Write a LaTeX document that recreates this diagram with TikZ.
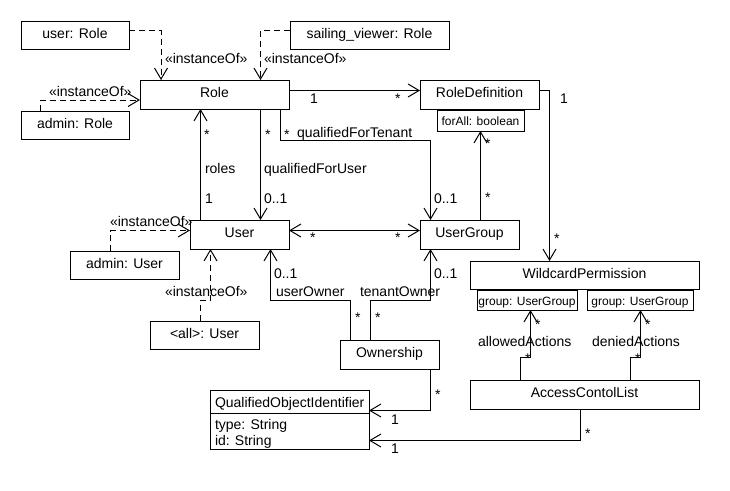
\documentclass[tikz,border=0pt]{standalone}
\usepackage{fontspec}
\setmainfont{Liberation Sans}
\usetikzlibrary{arrows.meta}
\begin{document}
\begin{tikzpicture}[x=1pt,y=-1pt,
  >={Straight Barb[length=11pt,width=13pt]},
  every node/.style={font=\fontsize{14pt}{16pt}\selectfont, inner sep=0pt, outer sep=0pt},
  box/.style={draw, line width=1pt, text height=9pt, text depth=3pt},
  sbox/.style={draw, line width=1pt, text height=10pt, text depth=0pt, font=\fontsize{12pt}{14pt}\selectfont},
  lab/.style={anchor=base west},
  conn/.style={draw, line width=1pt},
  dep/.style={draw, line width=1pt, dash pattern=on 6pt off 4pt}]
\fill[white] (0,0) rectangle (730,490);
\useasboundingbox (0,0) rectangle (730,490);

% boxes
\node[box, minimum width=108pt, minimum height=28pt] (userRole) at (75,35) {user: Role};
\node[box, minimum width=159pt, minimum height=28pt] (sailing) at (369.5,35) {sailing\_viewer: Role};
\node[box, minimum width=149pt, minimum height=29pt] (Role) at (214.5,94.5) {Role};
\node[box, minimum width=108pt, minimum height=28pt] (adminRole) at (75,125) {admin: Role};
\node[box, minimum width=119pt, minimum height=29pt] (RoleDef) at (479.5,94.5) {RoleDefinition};
\node[sbox, minimum width=87pt, minimum height=21pt] (forAll) at (480.5,120.5) {forAll: boolean};
\node[box, minimum width=99pt, minimum height=29pt] (User) at (239.5,234.5) {User};
\node[box, minimum width=99pt, minimum height=29pt] (UserGroup) at (469.5,234.5) {UserGroup};
\node[box, minimum width=109pt, minimum height=28pt] (adminUser) at (124.5,265) {admin: User};
\node[box, minimum width=109pt, minimum height=28pt] (allUser) at (204.5,335) {<all>: User};
\node[box, minimum width=99pt, minimum height=29pt] (Ownership) at (389.5,354.5) {Ownership};
\node[box, minimum width=229pt, minimum height=28pt] (Wildcard) at (584.5,275) {WildcardPermission};
\node[sbox, minimum width=100pt, minimum height=20pt] (g1) at (527,300) {group: UserGroup};
\node[sbox, minimum width=106pt, minimum height=20pt] (g2) at (640,300) {group: UserGroup};
\node[box, minimum width=229pt, minimum height=29pt] (ACL) at (584.5,394.5) {AccessContolList};
\node[draw, line width=1pt, minimum width=159pt, minimum height=59pt] (QOI) at (289.5,419.5) {};
\draw[line width=1pt] (QOI.west |- 0,413) -- (QOI.east |- 0,413);
\node[lab] (qoiName) at (215,407) {QualifiedObjectIdentifier};
\node[lab] (qoiType) at (215,429.5) {type: String};
\node[lab] (qoiId) at (215,445) {id: String};

% instanceOf dependencies
\draw[dep,->] (userRole.east |- 0,30.5) -| (Role.north -| 161,0);
\draw[dep,->] (sailing.west |- 0,30.5) -| (Role.north -| 260.5,0);
\draw[dep,->] (adminRole.north -| 40.5,0) |- (Role.west |- 0,100);
\draw[dep,->] (adminUser.north -| 110.5,0) |- (User.west |- 0,230.5);
\draw[dep,->] (allUser.north -| 200.5,0) -- (200.5,300) -| (User.south -| 210.5,0);
\node[lab] (i1) at (165,63) {«instanceOf»};
\node[lab] (i2) at (264,63) {«instanceOf»};
\node[lab] (i3) at (49,96.5) {«instanceOf»};
\node[lab] (i4) at (110,226) {«instanceOf»};
\node[lab] (i5) at (165,296.5) {«instanceOf»};

% associations
\draw[conn,->] (User.north -| 200.5,0) -- (Role.south -| 200.5,0);
\draw[conn,->] (Role.south -| 260.5,0) -- (User.north -| 260.5,0);
\draw[conn,->] (Role.south -| 280.5,0) -- (280.5,140.5) -| (UserGroup.north -| 430.5,0);
\draw[conn,->] (Role.east |- 0,90.5) -- (RoleDef.west |- 0,90.5);
\draw[conn,<->] (User.east |- 0,230.5) -- (UserGroup.west |- 0,230.5);
\draw[conn,->] (UserGroup.north -| 480.5,0) -- (forAll.south -| 480.5,0);
\draw[conn,->] (RoleDef.east |- 0,90.5) -| (Wildcard.north -| 549.5,0);
\draw[conn,->] (Ownership.north -| 350.5,0) -- (350.5,300.5) -| (User.south -| 270.5,0);
\draw[conn,->] (Ownership.north -| 370.5,0) -- (370.5,300.5) -| (UserGroup.south -| 430.5,0);
\draw[conn,->] (ACL.north -| 520.5,0) -- (520.5,357) -| (g1.south -| 530.5,0);
\draw[conn,->] (ACL.north -| 630.5,0) -- (630.5,357) -| (g2.south -| 640.5,0);
\draw[conn,->] (Ownership.south -| 430.5,0) |- (QOI.east |- 0,410.5);
\draw[conn,->] (ACL.south -| 580.5,0) |- (QOI.east |- 0,440.5);

% labels
\node[lab] (m1) at (204,139) {*};
\node[lab] (r1) at (205,173) {roles};
\node[lab] (m2) at (205,203) {1};
\node[lab] (m3) at (265,139) {*};
\node[lab] (r2) at (264,173) {qualifiedForUser};
\node[lab] (m4) at (264,203) {0..1};
\node[lab] (m5) at (284,139) {*};
\node[lab] (r3) at (297,137) {qualifiedForTenant};
\node[lab] (m6) at (434,203) {0..1};
\node[lab] (m7) at (310,103) {1};
\node[lab] (m8) at (395,103) {*};
\node[lab] (m9) at (560,103) {1};
\node[lab] (m10) at (554,243.5) {*};
\node[lab] (m11) at (310,242.5) {*};
\node[lab] (m12) at (395,242.5) {*};
\node[lab] (m13) at (485,148) {*};
\node[lab] (m14) at (485,202.5) {*};
\node[lab] (m15) at (274,278) {0..1};
\node[lab] (r4) at (276,296) {userOwner};
\node[lab] (m16) at (355,322.5) {*};
\node[lab] (m17) at (434,278) {0..1};
\node[lab] (r5) at (360,296) {tenantOwner};
\node[lab] (m18) at (375,322.5) {*};
\node[lab] (m19) at (535,329) {*};
\node[lab] (r6) at (478,346.5) {allowedActions};
\node[lab] (m20) at (525,363.5) {*};
\node[lab] (m21) at (645,329) {*};
\node[lab] (r7) at (592,346.5) {deniedActions};
\node[lab] (m22) at (635,363.5) {*};
\node[lab] (m23) at (435,399) {*};
\node[lab] (m24) at (391,424) {1};
\node[lab] (m25) at (585,438) {*};
\node[lab] (m26) at (391,453) {1};
\end{tikzpicture}
\end{document}
